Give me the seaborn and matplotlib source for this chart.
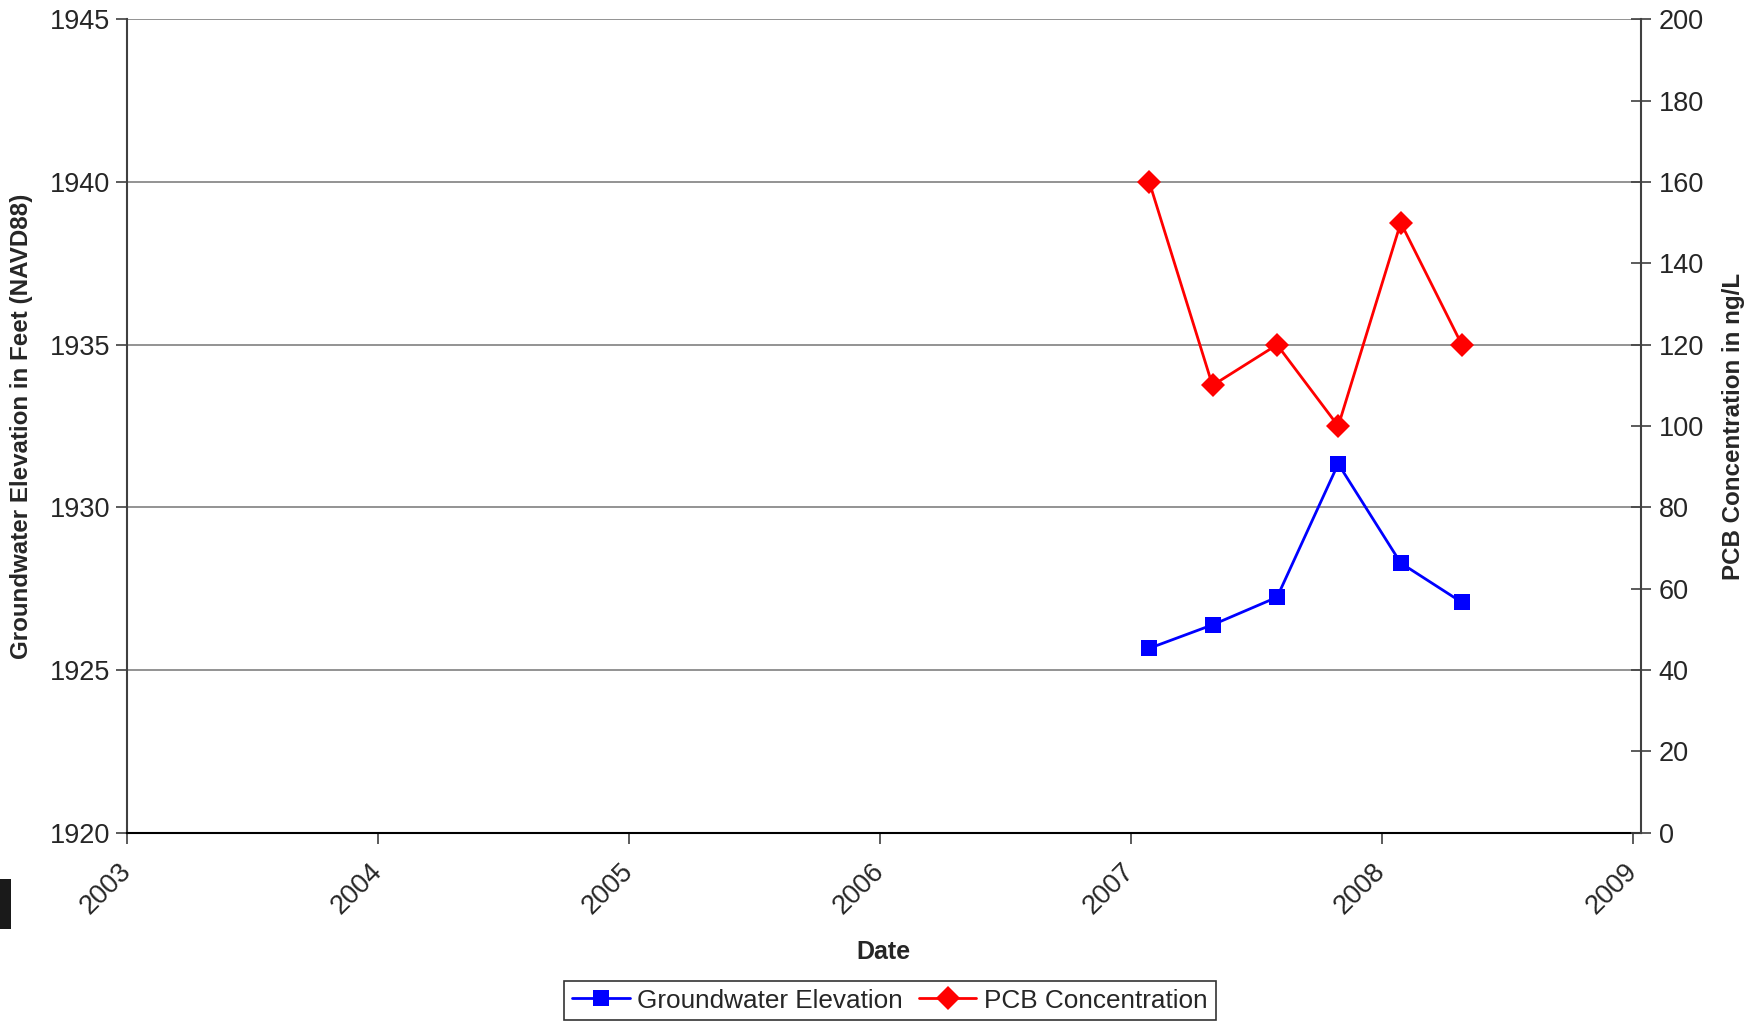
import numpy as np
import pandas as pd
import matplotlib
matplotlib.use("Agg")
import matplotlib.pyplot as plt
import matplotlib.dates as mdates
from matplotlib.lines import Line2D
from matplotlib.patches import Rectangle
import seaborn as sns

# ---- data ----
dates = ["2007-01-28", "2007-04-30", "2007-08-02", "2007-10-30", "2008-01-29", "2008-04-27"]
groundwater_elev = [1925.67, 1926.39, 1927.24, 1931.34, 1928.29, 1927.08]
pcb_conc = [160, 110, 120, 100, 150, 120]
left_ticks = [1920, 1925, 1930, 1935, 1940, 1945]
right_ticks = [0, 20, 40, 60, 80, 100, 120, 140, 160, 180, 200]

df = pd.DataFrame({"Date": pd.to_datetime(dates),
                   "Elev": groundwater_elev,
                   "PCB": pcb_conc})

sns.set_style("white")
plt.rcParams["font.family"] = ["Liberation Sans", "DejaVu Sans"]

fig = plt.figure(figsize=(17.64, 10.23), dpi=100)
ax = fig.add_axes([0.072, 0.186, 0.858, 0.795])
ax2 = ax.twinx()

sns.lineplot(data=df, x="Date", y="Elev", ax=ax, color="#0000FF", lw=2.0,
             marker="s", markersize=11, markeredgecolor="#0000FF", markeredgewidth=0)
sns.lineplot(data=df, x="Date", y="PCB", ax=ax2, color="#FF0000", lw=2.0,
             marker="D", markersize=12, markeredgecolor="#FF0000", markeredgewidth=0)

ax.set_xlim(pd.Timestamp("2003-01-01"), pd.Timestamp("2009-01-12"))
ax.set_ylim(1920, 1945)
ax2.set_ylim(0, 200)
ax.set_yticks(left_ticks)
ax2.set_yticks(right_ticks)

ax.xaxis.set_major_locator(mdates.YearLocator())
ax.xaxis.set_major_formatter(mdates.DateFormatter("%Y"))

# gridlines
ax.grid(axis="y", color="#808080", lw=1.2)
ax.grid(axis="x", visible=False)
ax2.grid(False)
ax.set_axisbelow(True)

for a in (ax, ax2):
    for s in a.spines.values():
        s.set_visible(False)
ax.spines["left"].set_visible(True)
ax.spines["left"].set_color("#404040")
ax.spines["left"].set_linewidth(1.5)
ax.spines["bottom"].set_visible(True)
ax.spines["bottom"].set_color("#000000")
ax.spines["bottom"].set_linewidth(1.5)
ax2.spines["right"].set_visible(True)
ax2.spines["right"].set_color("#404040")
ax2.spines["right"].set_linewidth(1.5)

ax.tick_params(axis="y", direction="out", length=8, width=1.2, color="#404040",
               labelsize=19.5, left=True, pad=4)
ax.tick_params(axis="x", direction="out", length=8, width=1.2, color="#404040",
               labelsize=19.5, bottom=True, pad=17)
ax2.tick_params(axis="y", direction="inout", length=14, width=1.2, color="#404040",
                labelsize=19.5, right=True, pad=6)

for lbl in ax.get_xticklabels():
    lbl.set_rotation(45)
    lbl.set_ha("right")
    lbl.set_va("center")
    lbl.set_rotation_mode("anchor")

ax.set_xlabel("Date", fontsize=18, fontweight="bold", labelpad=15)
ax.set_ylabel("Groundwater Elevation in Feet (NAVD88)", fontsize=17.4, fontweight="bold", labelpad=12)
ax2.set_ylabel("PCB Concentration in ng/L", fontsize=17.4, fontweight="bold", labelpad=13)

handles = [
    Line2D([], [], color="#0000FF", lw=2.0, marker="s", markersize=11, markeredgewidth=0),
    Line2D([], [], color="#FF0000", lw=2.0, marker="D", markersize=12, markeredgewidth=0),
]
leg = fig.legend(handles, ["Groundwater Elevation", "PCB Concentration"],
                 loc="lower center", bbox_to_anchor=(0.5045, 0.0), ncol=2,
                 fontsize=18.8, frameon=True, fancybox=False, handlelength=2.2,
                 handletextpad=0.3, columnspacing=0.6, borderpad=0.3, borderaxespad=0.1)
leg.get_frame().set_edgecolor("#000000")
leg.get_frame().set_linewidth(1.2)

# small dark fragment at the left edge of the original image
fig.patches.append(Rectangle((0, 0.092), 0.0065, 0.049, transform=fig.transFigure,
                             facecolor="#1a1a1a", edgecolor="none"))

fig.savefig("out.png", dpi=100)
